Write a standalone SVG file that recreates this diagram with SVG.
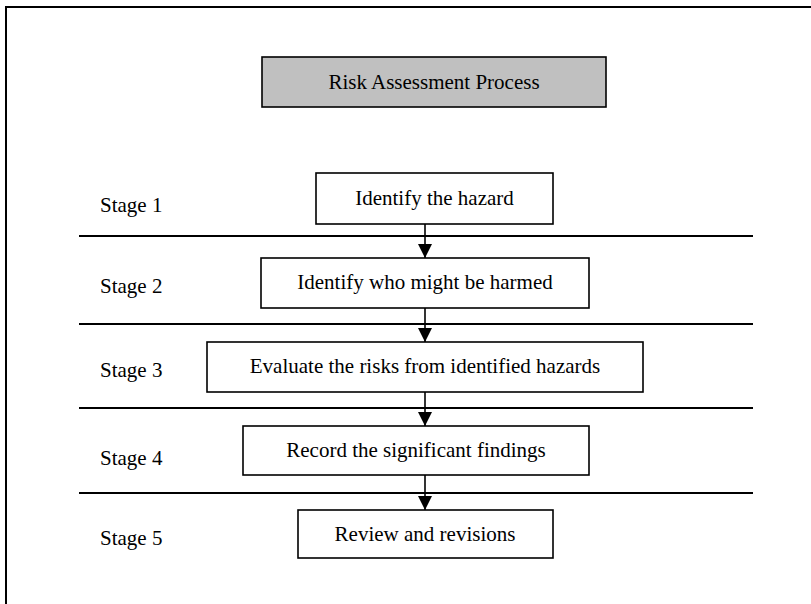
<svg xmlns="http://www.w3.org/2000/svg" width="811" height="604" viewBox="0 0 811 604">
<style>
text{font-family:"Liberation Serif","Times New Roman",serif;font-size:21px;fill:#000}
.c{text-anchor:middle}
.box{fill:#fff;stroke:#000;stroke-width:1.6}
.sep{stroke:#000;stroke-width:1.8}
.con{stroke:#000;stroke-width:1.6;fill:none}
</style>
<defs>
<marker id="ah" markerUnits="userSpaceOnUse" markerWidth="14" markerHeight="14" viewBox="0 0 14 14" refX="14" refY="7" orient="auto">
<path d="M0,0 L14,7 L0,14 Z" fill="#000"/>
</marker>
</defs>
<rect x="6" y="7" width="820" height="620" fill="#fff" stroke="#000" stroke-width="2"/>
<g id="title">
<rect x="262" y="57" width="344" height="50" fill="#c0c0c0" stroke="#000" stroke-width="1.6"/>
<text class="c" x="434" y="89">Risk Assessment Process</text>
</g>
<g id="separators">
<line class="sep" x1="79" y1="236" x2="753" y2="236"/>
<line class="sep" x1="79" y1="324" x2="753" y2="324"/>
<line class="sep" x1="79" y1="408" x2="753" y2="408"/>
<line class="sep" x1="79" y1="493" x2="753" y2="493"/>
</g>
<g id="labels">
<text x="100" y="212">Stage 1</text>
<text x="100" y="293">Stage 2</text>
<text x="100" y="377">Stage 3</text>
<text x="100" y="465">Stage 4</text>
<text x="100" y="545">Stage 5</text>
</g>
<g id="n1"><rect class="box" x="316" y="173" width="237" height="51"/><text class="c" x="434.5" y="205">Identify the hazard</text></g>
<g id="n2"><rect class="box" x="261" y="258" width="328" height="50"/><text class="c" x="425" y="289">Identify who might be harmed</text></g>
<g id="n3"><rect class="box" x="207" y="342" width="436" height="50"/><text class="c" x="425" y="373">Evaluate the risks from identified hazards</text></g>
<g id="n4"><rect class="box" x="243" y="426" width="346" height="49"/><text class="c" x="416" y="457">Record the significant findings</text></g>
<g id="n5"><rect class="box" x="298" y="510" width="255" height="48"/><text class="c" x="425" y="541">Review and revisions</text></g>
<g id="connectors">
<line class="con" x1="425" y1="224" x2="425" y2="258" marker-end="url(#ah)"/>
<line class="con" x1="425" y1="308" x2="425" y2="342" marker-end="url(#ah)"/>
<line class="con" x1="425" y1="392" x2="425" y2="426" marker-end="url(#ah)"/>
<line class="con" x1="425" y1="475" x2="425" y2="510" marker-end="url(#ah)"/>
</g>
</svg>
